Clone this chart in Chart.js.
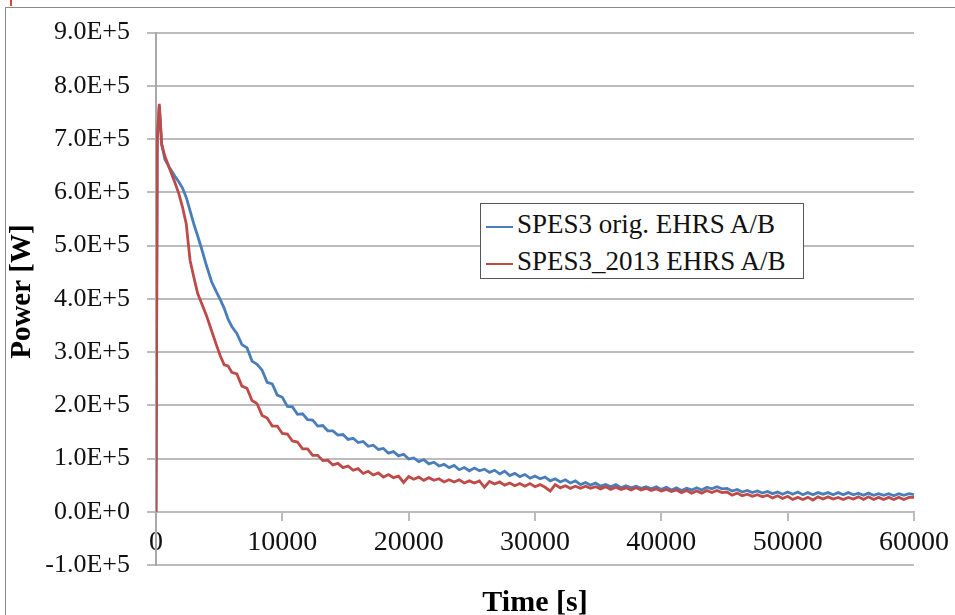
<!DOCTYPE html>
<html>
<head>
<meta charset="utf-8">
<script src="https://cdn.jsdelivr.net/npm/chart.js@4.4.1/dist/chart.umd.min.js"></script>
<style>
  html, body { margin: 0; padding: 0; background: #fff; }
  #wrap { position: relative; width: 955px; height: 615px; overflow: hidden; }
  #frame { position: absolute; left: 5px; top: 7px; right: -10px; bottom: -10px;
           border-left: 1.5px solid #8a8a8a; border-top: 1.5px solid #8a8a8a; pointer-events: none; }
  #cropMark { position: absolute; left: 10px; top: 0; width: 2px; height: 6px; background: #e04040; }
  #legend { position: absolute; left: 480px; top: 203px; width: 322px; height: 72px;
            border: 1.5px solid #555; background: #fff; box-sizing: content-box;
            font-family: 'Liberation Serif', serif; font-size: 27px; color: #111; padding-top: 2px; }
  #legend .row { height: 37px; line-height: 37px; white-space: nowrap; }
  #legend .swatch { display: inline-block; width: 27px; height: 2px; margin: 0 4px 0 5px; vertical-align: middle; }
</style>
</head>
<body>
<div id="wrap">
  <canvas id="chart" width="955" height="615"></canvas>
  <div id="frame"></div>
  <div id="cropMark"></div>
  <div id="legend"></div>
</div>
<script>
// -------------------- Data --------------------
const seriesNames = ['SPES3 orig. EHRS A/B', 'SPES3_2013 EHRS A/B'];
const seriesColors = ['#4a7ebb', '#be4b48'];

// time axis [s]
const timeS = [
  0, 100, 260, 450, 700, 1100, 1500, 1800, 2100, 2400, 2550, 2700, 3000, 3300, 3600,
  4000, 4400, 4800, 5100, 5400, 5700, 6000,
  6400, 6800, 7200, 7600, 8000, 8400, 8800, 9200, 9600, 10000,
  10400, 10800, 11200, 11600, 12000, 12400, 12800, 13200, 13600, 14000,
  14400, 14800, 15200, 15600, 16000, 16400, 16800, 17200, 17600, 18000,
  18400, 18800, 19200, 19600, 20000, 20400, 20800, 21200, 21600, 22000,
  22400, 22800, 23200, 23600, 24000, 24400, 24800, 25200, 25600, 26000,
  26400, 26800, 27200, 27600, 28000, 28400, 28800, 29200, 29600, 30000,
  30400, 30800, 31200, 31600, 32000, 32400, 32800, 33200, 33600, 34000,
  34400, 34800, 35200, 35600, 36000, 36400, 36800, 37200, 37600, 38000,
  38400, 38800, 39200, 39600, 40000, 40400, 40800, 41200, 41600, 42000,
  42400, 42800, 43200, 43600, 44000, 44400, 44800, 45200, 45600, 46000,
  46400, 46800, 47200, 47600, 48000, 48400, 48800, 49200, 49600, 50000,
  50400, 50800, 51200, 51600, 52000, 52400, 52800, 53200, 53600, 54000,
  54400, 54800, 55200, 55600, 56000, 56400, 56800, 57200, 57600, 58000,
  58400, 58800, 59200, 59600, 60000
];

// power [kW], SPES3 orig. EHRS A/B
const origKW = [
  0, 700, 762, 690, 662, 645, 630, 620, 608, 590, 578, 565, 540, 518, 495,
  462, 432, 412, 398, 382, 362, 348,
  335, 314, 308, 283, 277, 266, 243, 240, 219, 215,
  198, 197, 183, 184, 173, 172, 161, 162, 152, 152,
  144, 145, 136, 138, 130, 132, 123, 125, 117, 119,
  110, 113, 105, 108, 99, 101, 94, 98, 90, 93,
  86, 89, 83, 87, 79, 83, 77, 82, 77, 80,
  74, 78, 71, 76, 68, 72, 66, 70, 63, 67,
  62, 65, 58, 62, 56, 60, 54, 58, 51, 55,
  50, 54, 48, 51, 47, 51, 45, 49, 45, 48,
  44, 47, 43, 47, 42, 46, 41, 45, 40, 44,
  41, 45, 41, 46, 43, 47, 43, 44, 39, 42,
  37, 40, 36, 39, 35, 38, 34, 37, 33, 37,
  33, 37, 32, 36, 32, 36, 33, 36, 32, 36,
  32, 36, 32, 35, 31, 35, 31, 34, 31, 34,
  30, 34, 31, 34, 32
];

// power [kW], SPES3_2013 EHRS A/B
const newKW = [
  0, 700, 766, 690, 668, 643, 618, 598, 572, 540, 505, 472, 440, 410, 392,
  368, 340, 312, 292, 276, 274, 262,
  259, 236, 232, 209, 203, 181, 176, 161, 161, 147,
  146, 133, 131, 118, 118, 106, 106, 96, 97, 88,
  91, 83, 86, 78, 81, 72, 76, 69, 73, 65,
  70, 64, 67, 55, 66, 61, 65, 59, 64, 59,
  62, 56, 60, 56, 60, 54, 58, 54, 58, 46,
  57, 52, 56, 50, 54, 49, 53, 48, 53, 47,
  51, 46, 39, 51, 45, 49, 44, 48, 44, 48,
  44, 47, 43, 47, 42, 46, 42, 45, 41, 45,
  41, 44, 40, 43, 39, 42, 38, 41, 36, 40,
  35, 39, 35, 40, 36, 40, 36, 37, 31, 35,
  30, 33, 29, 32, 28, 31, 26, 30, 25, 29,
  23, 27, 23, 27, 22, 28, 24, 28, 24, 27,
  23, 27, 24, 28, 23, 28, 23, 27, 23, 27,
  23, 27, 23, 27, 27
];

// axis ticks
const xTicks = [0, 10000, 20000, 30000, 40000, 50000, 60000];
const yMin = -1e5, yMax = 9e5, yStep = 1e5;

// -------------------- Helpers --------------------
const serif = "'Liberation Serif', 'Times New Roman', serif";
const gridGray = '#bcbcbc';

function sciLabel(v) {
  if (v === 0) return '0.0E+0';
  const e = Math.floor(Math.log10(Math.abs(v)) + 1e-9);
  return (v / Math.pow(10, e)).toFixed(1) + 'E+' + e;
}

function toPoints(kw) {
  return timeS.map((t, i) => ({ x: t, y: kw[i] * 1000 }));
}

// -------------------- Chart --------------------
const chart = new Chart(document.getElementById('chart'), {
  type: 'line',
  data: {
    datasets: [
      {
        label: seriesNames[0],
        data: toPoints(origKW),
        borderColor: seriesColors[0],
        borderWidth: 2.8,
        pointRadius: 0,
        tension: 0,
        order: 1
      },
      {
        label: seriesNames[1],
        data: toPoints(newKW),
        borderColor: seriesColors[1],
        borderWidth: 2.8,
        pointRadius: 0,
        tension: 0,
        order: 0
      }
    ]
  },
  options: {
    responsive: false,
    animation: false,
    devicePixelRatio: 1,
    layout: { padding: { left: 0, right: 40, top: 21, bottom: 0 } },
    plugins: {
      legend: { display: false },
      tooltip: { enabled: false },
      title: {
        display: true,
        text: 'Time [s]',
        position: 'bottom',
        fullSize: false,
        color: '#000',
        font: { family: serif, size: 30, weight: 'bold', lineHeight: 0.8 },
        padding: { top: 26, bottom: 0 }
      }
    },
    scales: {
      x: {
        type: 'linear',
        position: { y: 0 },
        min: 0,
        max: 60000,
        afterBuildTicks: (scale) => { scale.ticks = xTicks.map(v => ({ value: v })); },
        ticks: {
          autoSkip: false,
          maxRotation: 0,
          padding: 6,
          color: '#111',
          font: { family: serif, size: 28 },
          callback: (v) => String(v)
        },
        grid: { drawOnChartArea: false, drawTicks: true, tickLength: 8, color: gridGray, lineWidth: 2 },
        border: { display: true, color: gridGray, width: 2 }
      },
      y: {
        type: 'linear',
        min: yMin,
        max: yMax,
        afterFit: (scale) => { scale.width = 156; },
        ticks: {
          stepSize: yStep,
          autoSkip: false,
          padding: 17,
          color: '#111',
          font: { family: serif, size: 26 },
          callback: (v) => sciLabel(v)
        },
        grid: { color: gridGray, lineWidth: 2, tickLength: 9 },
        border: { display: true, color: '#a8a8a8', width: 2 },
        title: {
          display: true,
          text: '\u2002Power [W]',
          color: '#000',
          font: { family: serif, size: 29, weight: 'bold', lineHeight: 1.2 },
          padding: { top: 5, bottom: 0 }
        }
      }
    }
  }
});

// -------------------- Legend (boxed, inside plot) --------------------
const legendDiv = document.getElementById('legend');
legendDiv.innerHTML = chart.data.datasets.map(ds =>
  `<div class="row"><span class="swatch" style="background:${ds.borderColor}"></span>${ds.label}</div>`
).join('');
</script>
</body>
</html>
